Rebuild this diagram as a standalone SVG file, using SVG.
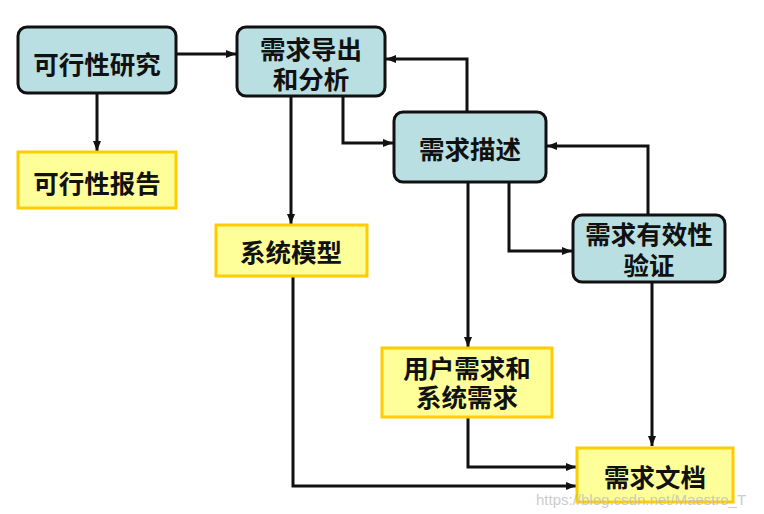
<svg xmlns="http://www.w3.org/2000/svg" width="764" height="514" viewBox="0 0 764 514">
<defs>
<style>
.proc rect{fill:#b9dfe2;stroke:#111;stroke-width:3}
.doc rect{fill:#ffff99;stroke:#ffcc00;stroke-width:3}
text{font-family:"Noto Sans CJK SC","Noto Sans",sans-serif;font-size:25.5px;font-weight:bold;fill:#111;text-anchor:middle;dominant-baseline:central}
.conn path{fill:none;stroke:#111;stroke-width:3}
.wm{font-family:"Liberation Sans",Arial,sans-serif;font-size:15px;font-weight:normal;fill:#c4c4c4;text-anchor:start;opacity:0.85}
</style>
<marker id="ah" viewBox="0 0 10 8" refX="10" refY="4" markerWidth="10" markerHeight="8" markerUnits="userSpaceOnUse" orient="auto">
<path d="M0,0 L10,4 L0,8 z" fill="#111"/>
</marker>
</defs>
<rect width="764" height="514" fill="#fff"/>
<g id="connectors" class="conn">
<path d="M176,54 H236" marker-end="url(#ah)"/>
<path d="M97,93 V151" marker-end="url(#ah)"/>
<path d="M291,96 V224" marker-end="url(#ah)"/>
<path d="M343,96 V143 H393" marker-end="url(#ah)"/>
<path d="M467,112 V59 H386" marker-end="url(#ah)"/>
<path d="M509,182 V251 H572" marker-end="url(#ah)"/>
<path d="M648,215 V146 H547" marker-end="url(#ah)"/>
<path d="M468,182 V347" marker-end="url(#ah)"/>
<path d="M652,282 V446" marker-end="url(#ah)"/>
<path d="M468,417 V467 H576" marker-end="url(#ah)"/>
<path d="M293,276 V486 H576" marker-end="url(#ah)"/>
</g>
<g id="feasibility-study" class="proc">
<rect x="18" y="27" width="158" height="66" rx="9"/>
<text x="97" y="62">可行性研究</text>
</g>
<g id="feasibility-report" class="doc">
<rect x="18" y="152" width="158" height="56"/>
<text x="97" y="181">可行性报告</text>
</g>
<g id="req-elicitation" class="proc">
<rect x="237" y="27" width="148" height="69" rx="9"/>
<text x="311" y="47">需求导出<tspan x="311" dy="30">和分析</tspan></text>
</g>
<g id="req-spec" class="proc">
<rect x="394" y="112" width="152" height="70" rx="9"/>
<text x="470" y="147">需求描述</text>
</g>
<g id="req-validation" class="proc">
<rect x="573" y="215" width="152" height="67" rx="9"/>
<text x="649" y="232">需求有效性<tspan x="649" dy="31">验证</tspan></text>
</g>
<g id="system-model" class="doc">
<rect x="216" y="225" width="151" height="51"/>
<text x="291" y="250">系统模型</text>
</g>
<g id="user-system-req" class="doc">
<rect x="382" y="348" width="170" height="69"/>
<text x="467" y="366">用户需求和<tspan x="467" dy="29">系统需求</tspan></text>
</g>
<g id="req-document" class="doc">
<rect x="577" y="448" width="156" height="54"/>
<text x="655" y="475">需求文档</text>
</g>
<text class="wm" x="536" y="499">https://blog.csdn.net/Maestro_T</text>
</svg>
